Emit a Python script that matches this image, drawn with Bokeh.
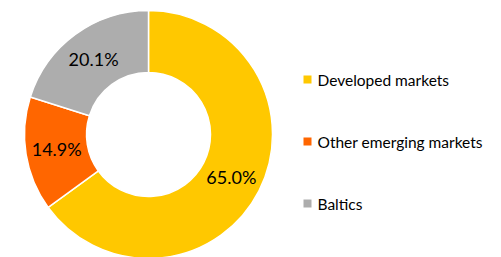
import math
from bokeh.plotting import figure
from bokeh.models import Range1d, ColumnDataSource
from bokeh.core.properties import value
from bokeh.embed import file_html
from bokeh.resources import INLINE

categories = ["Developed markets", "Other emerging markets", "Baltics"]
shares = [65.0, 14.9, 20.1]
colors = ["#FFC800", "#FF6600", "#ADADAD"]
labels = ["65.0%", "14.9%", "20.1%"]

W, H = 485, 257
# data coordinates: x = screen x, y = 257 - screen y
p = figure(width=W, height=H, output_backend="svg", toolbar_location=None,
           x_range=Range1d(0, W), y_range=Range1d(257 - H, 257),
           min_border=0, outline_line_color=None)
p.axis.visible = False
p.grid.visible = False
p.background_fill_color = "white"

cx, cy = 148, 257 - 134
r_out, r_in = 124, 62

total = sum(shares)
starts, ends, lx, ly = [], [], [], []
acc = 0.0
for s in shares:
    a0 = math.pi / 2 - 2 * math.pi * acc / total
    a1 = math.pi / 2 - 2 * math.pi * (acc + s) / total
    starts.append(a0)
    ends.append(a1)
    mid = (a0 + a1) / 2
    rm = (r_out + r_in) / 2
    lx.append(cx + rm * math.cos(mid))
    ly.append(cy + rm * math.sin(mid))
    acc += s

src = ColumnDataSource(dict(start=starts, end=ends, color=colors,
                            lx=lx, ly=ly, label=labels))
p.annular_wedge(x=cx, y=cy, inner_radius=r_in, outer_radius=r_out,
                start_angle="start", end_angle="end", direction="clock",
                fill_color="color", line_color="white", line_width=1.5, source=src)
p.text(x="lx", y="ly", text="label", source=src, text_align="center",
       text_baseline="middle", text_font=value("Lato"), text_font_size="18px",
       text_color="#000000")

# legend
leg_y = [257 - 79 - i * 62 for i in range(len(categories))]
leg = ColumnDataSource(dict(y=leg_y, color=colors, name=categories))
p.scatter(x=307, y="y", marker="square", size=8, fill_color="color",
          line_color=None, source=leg)
p.text(x=317, y="y", text="name", source=leg, text_align="left",
       text_baseline="middle", text_font=value("Lato"), text_font_size="15.5px",
       text_color="#000000")

open("out.html", "w").write(file_html(p, INLINE))
